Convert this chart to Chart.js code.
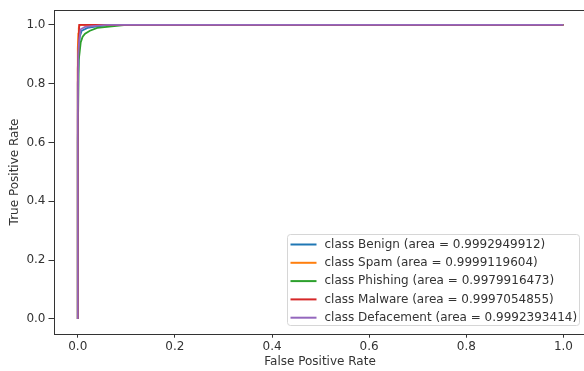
<!DOCTYPE html>
<html>
<head>
<meta charset="utf-8">
<script src="https://cdn.jsdelivr.net/npm/chart.js@4.4.1/dist/chart.umd.min.js"></script>
<style>
  html, body { margin: 0; padding: 0; background: #fff; overflow: hidden; }
  #wrap { width: 600px; height: 371px; }
</style>
</head>
<body>
<div id="wrap"><canvas id="myChart" width="600" height="371"></canvas></div>
<script>
'use strict';

const classNames = ['Benign', 'Spam', 'Phishing', 'Malware', 'Defacement'];
const areas = ['0.9992949912', '0.9999119604', '0.9979916473', '0.9997054855', '0.9992393414'];
const colors = ['#1f77b4', '#ff7f0e', '#2ca02c', '#d62728', '#9467bd'];

// roc points
const fprBenign = [0, 0, 0.002, 0.004, 0.008, 0.02, 0.04, 0.07, 1];
const tprBenign = [0, 0.8, 0.9, 0.96, 0.98, 0.99, 0.995, 1, 1];
const fprSpam = [0, 0, 0.001, 0.002, 0.004, 1];
const tprSpam = [0, 0.92, 0.97, 0.99, 1, 1];
const fprPhishing = [0, 0, 0.002, 0.004, 0.006, 0.01, 0.015, 0.025, 0.04, 0.07, 0.1, 1];
const tprPhishing = [0, 0.6, 0.88, 0.91, 0.94, 0.96, 0.97, 0.98, 0.99, 0.995, 1, 1];
const fprMalware = [0, 0, 0.002, 0.003, 1];
const tprMalware = [0, 0.85, 0.95, 1, 1];
const fprDeface = [0, 0, 0.001, 0.003, 0.006, 0.015, 0.03, 0.06, 1];
const tprDeface = [0, 0.67, 0.9, 0.95, 0.985, 0.993, 0.996, 1, 1];

const tickVals = [0, 0.2, 0.4, 0.6, 0.8, 1.0];

const curves = [
    [fprBenign, tprBenign],
    [fprSpam, tprSpam],
    [fprPhishing, tprPhishing],
    [fprMalware, tprMalware],
    [fprDeface, tprDeface],
];

const toPoints = (xs, ys) => xs.map((x, i) => ({ x: x, y: ys[i] }));

// later classes are drawn on top, like matplotlib
const datasets = curves.map((c, i) => ({
    label: 'class ' + classNames[i] + ' (area = ' + areas[i] + ')',
    data: toPoints(c[0], c[1]),
    borderColor: colors[i],
    backgroundColor: colors[i],
    borderWidth: 1.8,
    pointRadius: 0,
    tension: 0,
    fill: false,
    order: curves.length - i,
}));

const FONT = 'DejaVu Sans';
const TEXT = '#333333';

// frame, axis titles and legend box
const extras = {
    id: 'extras',
    afterDraw(chart) {
        const c = chart.ctx;
        const a = chart.chartArea;
        c.save();
        c.strokeStyle = '#333333';
        c.lineWidth = 1;
        c.strokeRect(Math.round(a.left) + 0.5, Math.round(a.top) + 0.5,
            Math.round(a.right - a.left), Math.round(a.bottom - a.top));

        c.fillStyle = TEXT;
        c.font = '12px "' + FONT + '"';
        c.textAlign = 'center';
        c.textBaseline = 'middle';
        c.fillText('False Positive Rate', 320, 362);
        c.translate(15, (a.top + a.bottom) / 2);
        c.rotate(-Math.PI / 2);
        c.fillText('True Positive Rate', 0, 0);
        c.restore();

        // legend
        c.save();
        const bx = 287.5, by = 234.5, bw = 292, bh = 91;
        c.beginPath();
        c.roundRect(bx, by, bw, bh, 3);
        c.fillStyle = 'rgba(255,255,255,0.8)';
        c.fill();
        c.strokeStyle = '#d6d6d6';
        c.lineWidth = 1;
        c.stroke();
        c.font = '12px "' + FONT + '"';
        c.textAlign = 'left';
        c.textBaseline = 'middle';
        chart.data.datasets.forEach((ds, i) => {
            const y = by + 10 + i * 18.3;
            c.strokeStyle = ds.borderColor;
            c.lineWidth = 2;
            c.beginPath();
            c.moveTo(bx + 3, y);
            c.lineTo(bx + 29, y);
            c.stroke();
            c.fillStyle = TEXT;
            c.fillText(ds.label, bx + 37, y);
        });
        c.restore();
    },
};

const myChart = new Chart(document.getElementById('myChart'), {
    type: 'line',
    data: { datasets: datasets },
    options: {
        responsive: false,
        animation: false,
        layout: { padding: { top: 9, right: 12.3, left: 0, bottom: 0 } },
        plugins: {
            legend: { display: false },
            tooltip: { enabled: false },
        },
        scales: {
            x: {
                type: 'linear',
                min: -0.05,
                max: 1.05,
                afterBuildTicks: (s) => { s.ticks = tickVals.map(v => ({ value: v })); },
                afterFit: (s) => { s.height = 37.3; },
                grid: { drawOnChartArea: false, tickLength: 4, color: '#333333' },
                border: { display: false },
                ticks: {
                    color: TEXT,
                    padding: 2,
                    maxRotation: 0,
                    font: { family: FONT, size: 12 },
                    callback: (v) => v.toFixed(1),
                },
            },
            y: {
                type: 'linear',
                min: -0.05,
                max: 1.05,
                afterBuildTicks: (s) => { s.ticks = tickVals.map(v => ({ value: v })); },
                afterFit: (s) => { s.width = 53.5; },
                grid: { drawOnChartArea: false, tickLength: 5, color: '#333333' },
                border: { display: false },
                ticks: {
                    color: TEXT,
                    padding: 3,
                    font: { family: FONT, size: 12 },
                    callback: (v) => v.toFixed(1),
                },
            },
        },
    },
    plugins: [extras],
});
</script>
</body>
</html>
